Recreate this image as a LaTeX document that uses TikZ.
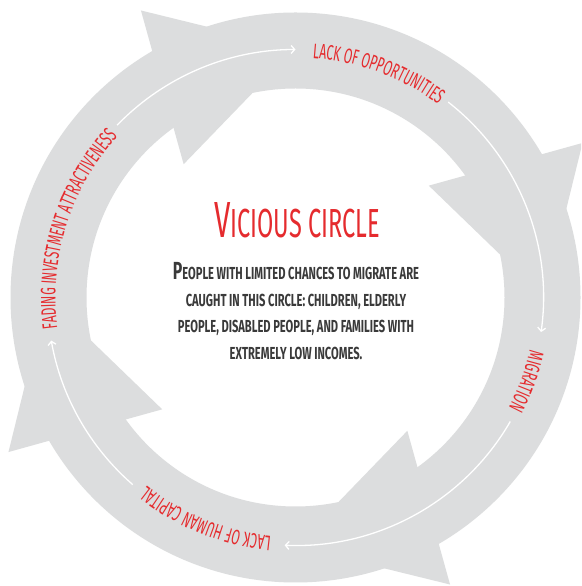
\documentclass[tikz,border=0pt]{standalone}
\usepackage{fontspec}
\usetikzlibrary{decorations.text,arrows.meta}
\newfontfamily\labelf[FakeStretch=0.58]{Fira Sans}
\newfontfamily\titlef[FakeStretch=0.58]{Fira Sans}
\newfontfamily\bodyf[FakeStretch=0.64]{Fira Sans}
\definecolor{ringgray}{HTML}{DCDDDE}
\definecolor{vred}{HTML}{E52B2E}
\definecolor{bodygray}{HTML}{3A3A3A}
\newcommand\lblfont{\labelf\fontsize{21}{25}\selectfont}
\tikzset{
  ringlabel/.style={decorate, decoration={text along path, text align=center, text color=vred}},
  flowarrow/.style={draw=white, line width=1.3pt, -{Straight Barb[length=3.5pt,width=8pt]}},
  titletext/.style={inner sep=0pt, text=vred, font=\titlef\fontsize{40.6}{44}\selectfont},
  bodytext/.style={inner sep=0pt, text=bodygray, align=center, font=\bodyf\bfseries\fontsize{17.4}{26.7}\selectfont}
}
\begin{document}
\begin{tikzpicture}[x=1pt,y=1pt]
\clip (0,0) rectangle (581,586);
\fill[white] (0,0) rectangle (581,586);
\coordinate (C) at (295.5,288.5);
\begin{scope}[shift={(C)}]
  % ring
  \fill[ringgray, even odd rule] (0,0) circle[radius=285] (0,0) circle[radius=209];
  % arrowheads
  \foreach \t in {90,0,-90,180}{
    \fill[ringgray] ({\t}:249) -- ({\t+28.3}:326) -- ({\t+40}:174) -- cycle;
  }
  % white flow arrows
  \draw[flowarrow] (136:248) arc[start angle=136, end angle=90, radius=248];
  \draw[flowarrow] (52:248) arc[start angle=52, end angle=-8, radius=248];
  \draw[flowarrow] (-30:248) arc[start angle=-30, end angle=-92.5, radius=248];
  \draw[flowarrow] (229:248) arc[start angle=229, end angle=190, radius=248];
  % labels
  \path[ringlabel, decoration={text={|\lblfont|LACK OF OPPORTUNITIES}}]
    (129.7:240) arc[start angle=129.7, end angle=9.7, radius=240];
  \path[ringlabel, decoration={text={|\lblfont|MIGRATION}}]
    (40:240) arc[start angle=40, end angle=-80, radius=240];
  \path[ringlabel, decoration={text={|\lblfont|LACK OF HUMAN CAPITAL}}]
    (-52:240) arc[start angle=-52, end angle=-172, radius=240];
  \path[ringlabel, decoration={text={|\lblfont|FADING INVESTMENT ATTRACTIVENESS}}]
    (222.6:240) arc[start angle=222.6, end angle=102.6, radius=240];
\end{scope}
\node[titletext, anchor=base] (title) at (297,348) {{\fontsize{50.8}{55}\selectfont V}ICIOUS CIRCLE};
\node[bodytext, anchor=north] (body) at (296,324) {{\fontsize{24.7}{26.7}\selectfont P}EOPLE WITH LIMITED CHANCES TO MIGRATE ARE\\CAUGHT IN THIS CIRCLE: CHILDREN, ELDERLY\\PEOPLE, DISABLED PEOPLE, AND FAMILIES WITH\\EXTREMELY LOW INCOMES.};
\end{tikzpicture}
\end{document}
